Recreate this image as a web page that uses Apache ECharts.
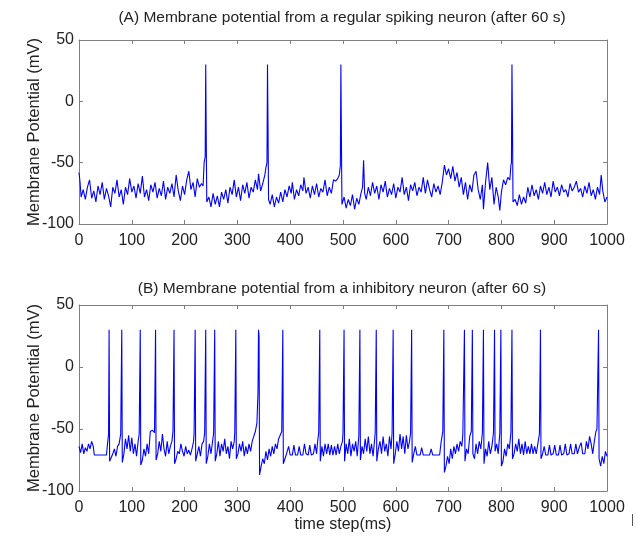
<!DOCTYPE html>
<html>
<head>
<meta charset="utf-8">
<script src="https://cdn.jsdelivr.net/npm/echarts@6/dist/echarts.min.js"></script>
<style>
html, body { margin: 0; padding: 0; background: #fff; }
#chart { width: 637px; height: 540px; }
</style>
</head>
<body>
<div id="chart"></div>
<script>
// panel titles and axis labels
var titleA = '(A) Membrane potential from a regular spiking neuron (after 60 s)';
var titleB = '(B) Membrane potential from a inhibitory neuron (after 60 s)';
var yName = 'Membrane Potential (mV)';
var xName = 'time step(ms)';
var yTicks = [-100, -50, 0, 50];
var xTicks = [0, 100, 200, 300, 400, 500, 600, 700, 800, 900, 1000];

// (A) regular spiking neuron, [time ms, mV]
var traceA = [
  [0,-58],[2,-66],[4,-78],[8,-72],[12,-80],[16,-70],[20,-64],[24,-79],[28,-73],[32,-82],
  [36,-69],[40,-76],[44,-66],[48,-80],[52,-71],[56,-77],[60,-86],[64,-70],[68,-75],[72,-64],
  [76,-78],[80,-72],[84,-84],[88,-70],[92,-76],[96,-63],[100,-74],[104,-69],[108,-79],[112,-67],
  [116,-75],[120,-61],[124,-78],[128,-72],[132,-81],[136,-68],[140,-74],[144,-66],[148,-79],[152,-71],
  [156,-77],[160,-65],[164,-80],[168,-70],[172,-75],[176,-67],[180,-78],[184,-60],[188,-73],[192,-81],
  [196,-69],[200,-76],[204,-64],[208,-57],[212,-72],[216,-66],[220,-78],[224,-63],[228,-70],[232,-67],
  [235,-69],[237,-50],[239,-45],[240,30],[241,-30],[242,-82],[246,-78],[250,-86],[254,-75],[258,-84],
  [262,-77],[266,-86],[270,-74],[274,-80],[278,-72],[282,-83],[286,-70],[290,-76],[294,-64],[298,-78],
  [302,-70],[306,-81],[310,-68],[314,-75],[318,-66],[322,-79],[326,-70],[330,-74],[334,-64],[338,-72],
  [340,-59],[344,-73],[348,-67],[352,-60],[354,-54],[356,-50],[357,30],[358,-20],[359,-80],[362,-84],
  [366,-76],[370,-86],[374,-78],[378,-83],[382,-74],[386,-82],[390,-72],[394,-78],[398,-69],[402,-75],
  [404,-66],[408,-80],[412,-72],[416,-77],[420,-68],[424,-73],[426,-62],[430,-75],[434,-70],[438,-79],
  [442,-69],[446,-76],[450,-67],[454,-78],[458,-71],[462,-74],[466,-64],[470,-77],[474,-70],[478,-75],
  [482,-64],[486,-65],[490,-63],[493,-60],[495,-52],[496,30],[497,-30],[498,-84],[502,-78],[506,-87],
  [510,-80],[514,-85],[518,-76],[522,-88],[526,-79],[530,-84],[534,-75],[537,-70],[539,-48],[541,-75],
  [544,-80],[548,-70],[552,-77],[556,-66],[560,-75],[564,-69],[568,-80],[572,-68],[576,-74],[580,-65],
  [584,-78],[588,-71],[592,-76],[596,-67],[600,-79],[604,-70],[608,-74],[612,-62],[616,-76],[620,-70],
  [624,-81],[628,-68],[632,-73],[636,-66],[640,-77],[644,-70],[648,-74],[652,-62],[656,-75],[660,-64],
  [664,-72],[668,-78],[672,-67],[676,-74],[680,-69],[684,-76],[688,-66],[692,-52],[696,-60],[700,-55],
  [704,-63],[708,-53],[712,-65],[716,-58],[720,-70],[724,-62],[728,-76],[732,-66],[736,-80],[740,-68],
  [744,-74],[748,-60],[752,-57],[756,-72],[760,-80],[764,-68],[766,-88],[770,-66],[774,-50],[778,-72],
  [782,-62],[786,-84],[790,-70],[794,-78],[797,-89],[800,-74],[804,-64],[808,-68],[812,-62],[816,-64],
  [818,-52],[819,-50],[820,30],[821,-20],[822,-82],[826,-80],[830,-85],[834,-76],[838,-84],[842,-78],
  [846,-83],[850,-70],[854,-78],[858,-68],[862,-77],[866,-72],[870,-80],[874,-69],[878,-75],[882,-66],
  [886,-76],[890,-70],[894,-78],[898,-65],[902,-74],[906,-70],[910,-77],[914,-68],[918,-74],[922,-72],
  [926,-78],[930,-67],[934,-73],[938,-70],[942,-65],[946,-74],[950,-71],[954,-78],[958,-69],[962,-75],
  [966,-66],[970,-77],[974,-72],[978,-80],[982,-70],[986,-76],[989,-60],[992,-73],[996,-82],[1000,-78]
];

// (B) inhibitory neuron, [time ms, mV]
var traceB = [
  [0,-64],[3,-69],[6,-62],[9,-70],[12,-65],[15,-68],[18,-62],[21,-66],[24,-60],[27,-64],
  [29,-71],[52,-71],[54,-62],[56,-54],[57,30],[58,-76],[61,-75],[64,-70],[67,-66],[70,-72],
  [73,-64],[76,-62],[79,-54],[81,30],[82,-77],[85,-70],[88,-58],[91,-66],[94,-55],[97,-68],
  [100,-57],[103,-70],[106,-62],[109,-72],[112,-60],[114,-54],[116,30],[117,-79],[120,-75],[123,-66],
  [126,-72],[129,-62],[132,-70],[135,-52],[139,-51],[143,-53],[145,30],[146,-75],[149,-70],[152,-60],
  [155,-68],[158,-54],[161,-66],[164,-72],[167,-60],[170,-70],[173,-64],[176,-60],[178,-52],[180,30],
  [181,-78],[184,-74],[187,-68],[190,-70],[193,-62],[196,-68],[199,-72],[202,-64],[205,-70],[208,-67],
  [211,-71],[214,-66],[217,-60],[218,-53],[220,30],[221,-76],[224,-70],[227,-64],[230,-72],[233,-62],
  [236,-60],[238,-53],[240,30],[241,-78],[244,-72],[247,-62],[250,-70],[253,-60],[255,-53],[257,30],
  [258,-76],[261,-70],[264,-60],[267,-72],[270,-62],[273,-68],[276,-58],[279,-70],[282,-64],[285,-74],
  [288,-60],[291,-66],[294,-60],[295,-53],[297,30],[298,-74],[301,-70],[304,-62],[307,-68],[310,-60],
  [313,-72],[316,-64],[319,-70],[322,-62],[325,-68],[328,-60],[331,-56],[334,-52],[337,-45],[339,-20],
  [340,30],[341,25],[342,-87],[345,-80],[348,-74],[351,-78],[354,-68],[357,-75],[360,-66],[363,-72],
  [366,-64],[369,-70],[372,-62],[375,-66],[378,-58],[381,-55],[384,-52],[386,30],[387,-78],[390,-74],
  [393,-70],[397,-64],[400,-71],[404,-71],[407,-63],[410,-71],[414,-71],[417,-64],[420,-71],[424,-71],
  [427,-62],[430,-70],[434,-71],[437,-63],[440,-71],[444,-70],[447,-62],[450,-70],[452,-60],[454,-53],
  [456,30],[457,-76],[460,-64],[463,-72],[466,-62],[469,-70],[472,-62],[475,-71],[478,-63],[481,-71],
  [484,-64],[487,-71],[490,-62],[493,-70],[496,-64],[499,-60],[500,-53],[502,30],[503,-76],[506,-62],
  [509,-70],[512,-58],[515,-72],[518,-62],[521,-68],[524,-60],[527,-72],[530,-55],[532,30],[533,-75],
  [536,-64],[539,-70],[542,-58],[545,-68],[548,-56],[551,-70],[554,-62],[557,-72],[560,-58],[561,-53],
  [563,30],[564,-76],[567,-66],[570,-60],[573,-70],[576,-56],[579,-68],[582,-62],[585,-72],[588,-56],
  [591,-66],[593,-53],[595,30],[596,-78],[599,-70],[602,-60],[605,-68],[608,-54],[611,-66],[614,-56],
  [617,-70],[620,-55],[623,-66],[626,-60],[628,-53],[630,30],[631,-77],[634,-70],[637,-64],[640,-71],
  [646,-71],[649,-65],[652,-71],[664,-71],[667,-66],[670,-71],[683,-71],[686,-60],[689,-52],[691,30],
  [692,-85],[695,-80],[698,-72],[701,-78],[704,-66],[707,-74],[710,-64],[713,-70],[716,-62],[719,-68],
  [722,-60],[725,-64],[727,-54],[730,30],[731,-76],[734,-66],[737,-70],[740,-56],[743,-52],[745,30],
  [746,-70],[749,-74],[752,-62],[755,-70],[758,-60],[761,-66],[764,-53],[766,30],[767,-78],[770,-66],
  [773,-72],[776,-60],[779,-70],[782,-64],[785,-53],[787,30],[788,-68],[791,-62],[794,-70],[797,-53],
  [799,30],[800,-80],[803,-76],[806,-66],[809,-72],[812,-62],[815,-66],[818,-53],[820,30],[821,-74],
  [824,-70],[827,-62],[830,-68],[833,-58],[836,-70],[839,-62],[842,-71],[845,-60],[848,-70],[851,-64],
  [854,-70],[857,-62],[860,-70],[863,-64],[866,-70],[869,-62],[872,-54],[874,30],[875,-74],[878,-70],
  [881,-64],[884,-71],[888,-71],[891,-63],[894,-71],[898,-70],[901,-63],[904,-71],[908,-71],[911,-63],
  [914,-71],[918,-70],[921,-62],[924,-71],[928,-70],[931,-62],[934,-70],[938,-70],[941,-62],[944,-70],
  [948,-64],[951,-61],[954,-70],[958,-70],[961,-60],[964,-66],[967,-56],[970,-62],[973,-70],[976,-60],
  [979,-52],[981,-50],[984,30],[985,-74],[988,-80],[991,-72],[994,-78],[997,-68],[1000,-72]
];

var FONT = 'Liberation Sans';
var AXIS_COLOR = '#7f7f7f';
var TEXT_COLOR = '#222';
var LINE_COLOR = '#0000ff';

var chart = echarts.init(document.getElementById('chart'), null, { renderer: 'canvas' });

// plain numbers on the ticks, no thousands separator
function plain(v) { return String(v); }

function makeX(gridIndex, withLabel, position) {
  return {
    type: 'value', gridIndex: gridIndex, position: position,
    min: xTicks[0], max: xTicks[xTicks.length - 1], interval: 100,
    name: withLabel && gridIndex === 1 ? xName : '',
    nameLocation: 'middle', nameGap: 26,
    nameTextStyle: { fontFamily: FONT, fontSize: 16, color: TEXT_COLOR },
    axisLine: { show: true, onZero: false, lineStyle: { color: AXIS_COLOR, width: 1 } },
    axisTick: { show: true, inside: true, length: 4, lineStyle: { color: AXIS_COLOR } },
    axisLabel: { show: withLabel, fontFamily: FONT, fontSize: 16, color: TEXT_COLOR, margin: 9, formatter: plain },
    splitLine: { show: false }
  };
}

function makeY(gridIndex, withLabel, position) {
  return {
    type: 'value', gridIndex: gridIndex, position: position,
    min: yTicks[0], max: yTicks[yTicks.length - 1], interval: 50,
    name: withLabel ? yName : '',
    nameLocation: 'middle', nameGap: 36, nameMoveOverlap: false,
    nameTextStyle: { fontFamily: FONT, fontSize: 16.5, color: TEXT_COLOR },
    axisLine: { show: true, onZero: false, lineStyle: { color: AXIS_COLOR, width: 1 } },
    axisTick: { show: true, inside: true, length: 4, lineStyle: { color: AXIS_COLOR } },
    axisLabel: { show: withLabel, fontFamily: FONT, fontSize: 16, color: TEXT_COLOR, margin: 5, formatter: plain },
    splitLine: { show: false }
  };
}

function makeLine(data, idx) {
  return {
    type: 'line', data: data,
    xAxisIndex: idx * 2, yAxisIndex: idx * 2,
    showSymbol: false, symbol: 'none', sampling: null,
    lineStyle: { color: LINE_COLOR, width: 1.1 },
    animation: false
  };
}

var option = {
  backgroundColor: '#fff',
  animation: false,
  grid: [
    { left: 79, right: 30, top: 40, height: 184 },
    { left: 79, right: 30, top: 305, height: 186 }
  ],
  xAxis: [
    makeX(0, true, 'bottom'), makeX(0, false, 'top'),
    makeX(1, true, 'bottom'), makeX(1, false, 'top')
  ],
  yAxis: [
    makeY(0, true, 'left'), makeY(0, false, 'right'),
    makeY(1, true, 'left'), makeY(1, false, 'right')
  ],
  series: [makeLine(traceA, 0), makeLine(traceB, 1)],
  graphic: [
    { type: 'text', x: 342, y: 18, style: { text: titleA, fontFamily: FONT, fontSize: 15.5, fill: TEXT_COLOR, textAlign: 'center', textVerticalAlign: 'middle' } },
    { type: 'text', x: 342, y: 289, style: { text: titleB, fontFamily: FONT, fontSize: 15.5, fill: TEXT_COLOR, textAlign: 'center', textVerticalAlign: 'middle' } },
    { type: 'line', shape: { x1: 632.5, y1: 514, x2: 632.5, y2: 526 }, style: { stroke: '#555', lineWidth: 1 } }
  ]
};

chart.setOption(option);
</script>
</body>
</html>
